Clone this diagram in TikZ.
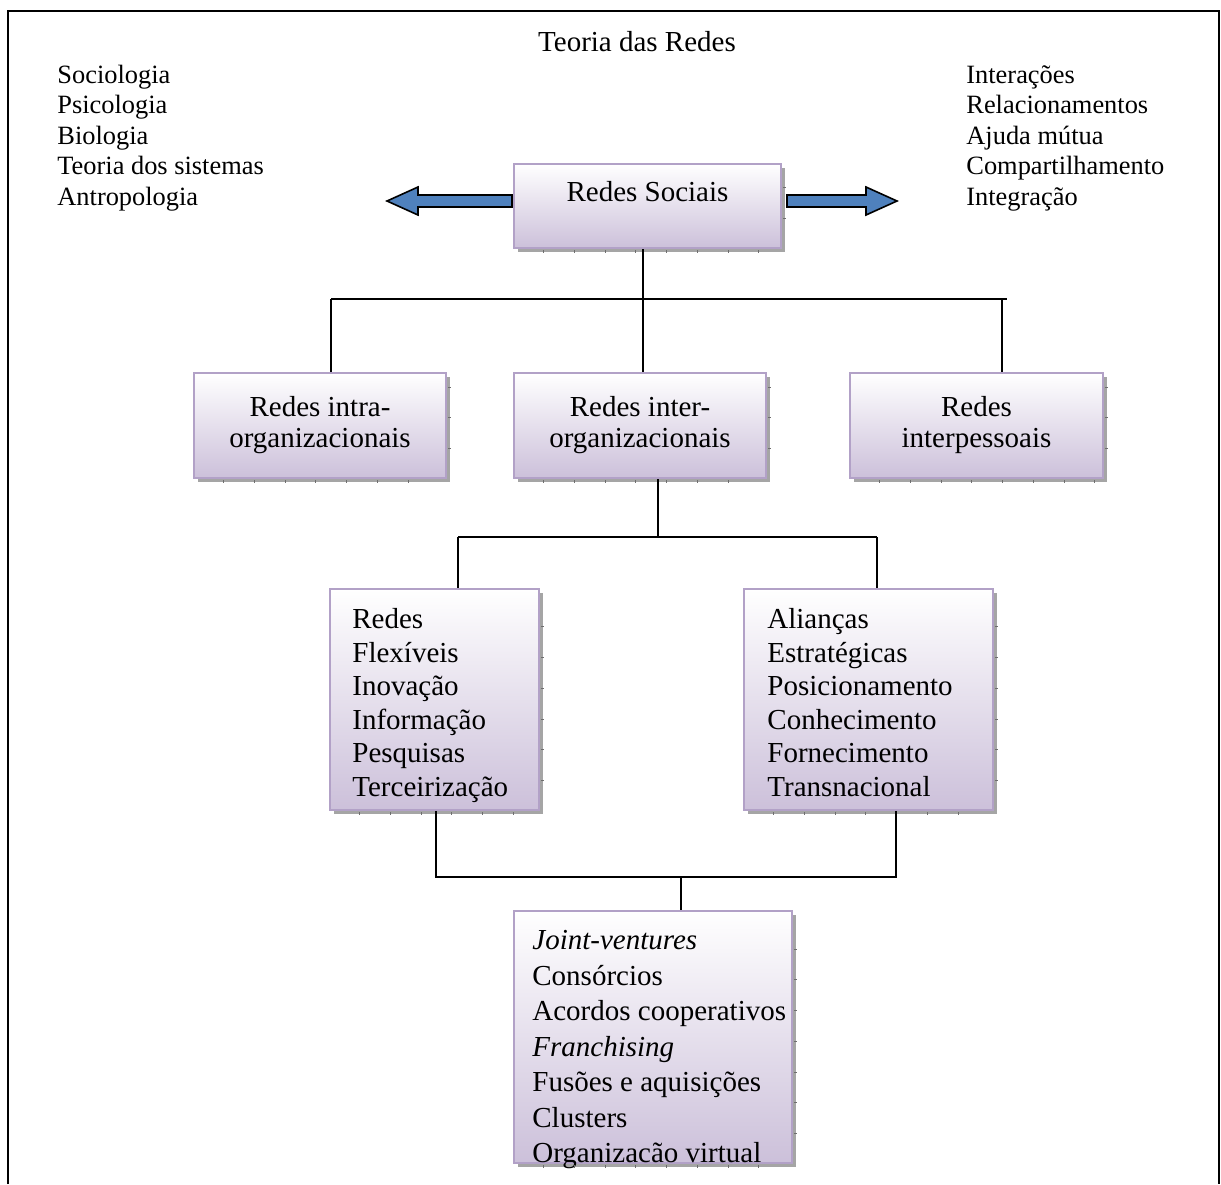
\documentclass[tikz,border=0pt]{standalone}
\usepackage{fontspec}
\setmainfont{Liberation Serif}
\usetikzlibrary{shadows,calc}

\definecolor{lavbot}{RGB}{204,192,218}
\definecolor{lavedge}{RGB}{178,161,199}
\definecolor{arrowblue}{RGB}{79,129,189}
\definecolor{shadowgray}{RGB}{165,165,165}
\definecolor{tickgray}{RGB}{110,110,110}

\tikzset{
  card/.style={draw=lavedge, line width=1pt, top color=white, bottom color=lavbot,
    inner sep=0pt,
    drop shadow={shadow xshift=2pt, shadow yshift=-2pt, fill=shadowgray, opacity=1}},
  cardtext/.style={font=\fontsize{14.5}{15.5}\selectfont, align=center},
  listtext/.style={inner sep=0pt, anchor=north west, align=left},
  outer/.style={inner sep=0pt, anchor=base west, font=\fontsize{13.2}{15}\selectfont},
  link/.style={line width=0.75pt},
  fatarrow/.style={fill=arrowblue, draw=black, line width=0.8pt, line join=miter},
  tickmark/.style={draw=tickgray, line width=0.4pt},
}

% small ticks along the bottom and right edges of a box shadow
\newcommand\shadowticks[1]{%
  \path let \p1=($(#1.south east)-(#1.south west)$),
            \p2=($(#1.north east)-(#1.south east)$) in
    \pgfextra{\pgfmathtruncatemacro\nx{\x1/15.35-0.3}%
              \pgfmathtruncatemacro\ny{\y2/15.35-0.3}%
              \xdef\ticknx{\nx}\xdef\tickny{\ny}};
  \foreach \k in {1,...,\ticknx}
    \draw[tickmark] ($(#1.south west)+(\k*30.7,1)$) -- ++(0,3);
  \foreach \k in {1,...,\tickny}
    \draw[tickmark] ($(#1.south east)+(1,-\k*30.7)$) -- ++(3,0);
}

\begin{document}
\begin{tikzpicture}[x=0.5pt, y=-0.5pt]
  \useasboundingbox (0,0) rectangle (1221,1184);

  % page frame (open at the bottom)
  \draw[line width=1pt] (8,1184) -- (8,11) -- (1219,11) -- (1219,1184);

  % heading and side lists
  \node[inner sep=0pt, anchor=base, font=\fontsize{14.5}{16}\selectfont] (title) at (637,51) {Teoria das Redes};

  \node[outer] (l1) at (57,83)    {Sociologia};
  \node[outer] (l2) at (57,113.5) {Psicologia};
  \node[outer] (l3) at (57,144)   {Biologia};
  \node[outer] (l4) at (57,174.5) {Teoria dos sistemas};
  \node[outer] (l5) at (57,205)   {Antropologia};

  \node[outer] (r1) at (966,83)    {Interações};
  \node[outer] (r2) at (966,113.5) {Relacionamentos};
  \node[outer] (r3) at (966,144)   {Ajuda mútua};
  \node[outer] (r4) at (966,174.5) {Compartilhamento};
  \node[outer] (r5) at (966,205)   {Integração};

  % boxes
  \node[card, minimum width=133.5pt, minimum height=42pt] (soc) at (647.5,206) {};
  \node[cardtext, inner sep=0pt] (soctext) at (647.5,192) {Redes Sociais};

  \node[card, cardtext, minimum width=126pt, minimum height=52.5pt] (intra) at (320,425.5)
    {Redes intra-\\organizacionais};
  \node[card, cardtext, minimum width=126pt, minimum height=52.5pt] (inter) at (640,425.5)
    {Redes inter-\\organizacionais};
  \node[card, cardtext, minimum width=126.5pt, minimum height=52.5pt] (interp) at (976.5,425.5)
    {Redes\\interpessoais};

  \node[card, minimum width=104.5pt, minimum height=110.5pt] (flex) at (434.5,699.5) {};
  \node[listtext, font=\fontsize{14.5}{16.8}\selectfont] (flextext) at (352,608)
    {Redes\\Flexíveis\\Inovação\\Informação\\Pesquisas\\Terceirização};

  \node[card, minimum width=124.5pt, minimum height=110.5pt] (ali) at (868.5,699.5) {};
  \node[listtext, font=\fontsize{14.5}{16.8}\selectfont] (alitext) at (767,608)
    {Alianças\\Estratégicas\\Posicionamento\\Conhecimento\\Fornecimento\\Transnacional};

  \node[card, minimum width=139pt, minimum height=126pt] (forms) at (653,1037) {};
  \node[listtext, font=\fontsize{14.5}{17.75}\selectfont] (formstext) at (532,930)
    {\textit{Joint-ventures}\\Consórcios\\Acordos cooperativos\\\textit{Franchising}\\Fusões e aquisições\\Clusters\\Organizacão virtual};

  \shadowticks{soc}
  \shadowticks{intra}
  \shadowticks{inter}
  \shadowticks{interp}
  \shadowticks{flex}
  \shadowticks{ali}
  \shadowticks{forms}

  % side arrows
  \draw[fatarrow] (512,195) -- (418,195) -- (418,187) -- (387,201) -- (418,215)
    -- (418,207) -- (512,207) -- cycle;
  \draw[fatarrow] (787,195) -- (866,195) -- (866,187) -- (897,201) -- (866,215)
    -- (866,207) -- (787,207) -- cycle;

  % tree connectors
  \coordinate (j1) at (643,299);
  \coordinate (j1l) at (331,299);
  \coordinate (j1r) at (1002,299);
  \coordinate (j1e) at (1007,299);
  \draw[link] (soc.south -| j1) -- (inter.north -| j1);
  \draw[link] (j1l) -- (j1e);
  \draw[link] (j1l) -- (intra.north -| j1l);
  \draw[link] (j1r) -- (interp.north -| j1r);

  \coordinate (j2) at (658,537);
  \coordinate (j2l) at (458,537);
  \coordinate (j2r) at (877,537);
  \draw[link] (inter.south -| j2) -- (j2);
  \draw[link] (j2l) -- (j2r);
  \draw[link] (j2l) -- (flex.north -| j2l);
  \draw[link] (j2r) -- (ali.north -| j2r);

  \coordinate (j3) at (681,877);
  \coordinate (j3l) at (436,877);
  \coordinate (j3r) at (896,877);
  \draw[link] (flex.south -| j3l) -- (j3l) -- (j3r) -- (ali.south -| j3r);
  \draw[link] (j3) -- (forms.north -| j3);
\end{tikzpicture}
\end{document}
